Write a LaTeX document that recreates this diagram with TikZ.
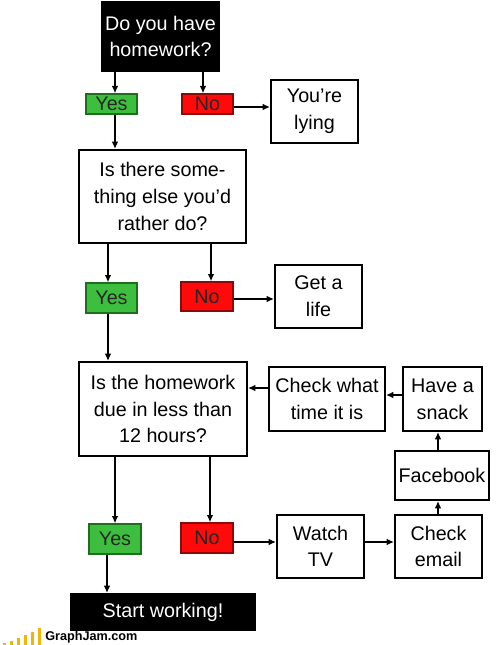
\documentclass[tikz,border=0pt]{standalone}
\usepackage{fontspec}
\setmainfont{Liberation Sans}
\usetikzlibrary{arrows.meta}
\definecolor{yesg}{HTML}{3EBE3E}
\definecolor{yesd}{HTML}{1E6E1E}
\definecolor{nor}{HTML}{FF0A0A}
\definecolor{nod}{HTML}{8A0A0A}
\definecolor{barc}{HTML}{F2B705}
\begin{document}
\begin{tikzpicture}[x=0.75pt,y=-0.75pt,
  box/.style={draw=black,line width=1.5pt,inner sep=0pt,align=center,font=\fontsize{14.8}{20}\selectfont},
  sz/.style 2 args={minimum width=#1*0.75pt,minimum height=#2*0.75pt},
  dark/.style={box,fill=black,text=white},
  yesb/.style={box,fill=yesg,draw=yesd,line width=1pt,text=black!85},
  nob/.style={box,fill=nor,draw=nod,line width=1pt,text=black!85},
  arr/.style={line width=1.5pt,-{Latex[length=5.5pt,width=5pt]}}]
\useasboundingbox (0,0) rectangle (497,645);
\fill[white] (0,0) rectangle (497,645);

% nodes
\node[dark,sz={117}{69}] (q1) at (160.5,36.5) {Do you have\\homework?};
\node[yesb,sz={51}{20}] (y1) at (111.5,104) {Yes};
\node[nob,sz={51}{20}] (n1) at (207.5,104) {No};
\node[box,sz={87}{63}] (lie) at (314.5,111.5) {You're\\lying};

\node[box,sz={167}{93}] (q2) at (162.5,196.5) {Is there some-\\thing else you'd\\rather do?};
\node[yesb,sz={51}{30}] (y2) at (111.5,298) {Yes};
\node[nob,sz={52}{29}] (n2) at (207,296.5) {No};
\node[box,sz={87}{63}] (life) at (318.5,296.5) {Get a\\life};

\node[box,sz={168}{94}] (q3) at (163,409) {Is the homework\\due in less than\\12 hours?};
\node[box,sz={116}{64}] (time) at (327,399) {Check what\\time it is};
\node[box,sz={79}{64}] (snack) at (442.5,399) {Have a\\snack};
\node[box,sz={94}{49}] (fb) at (442,475.5) {Facebook};

\node[yesb,sz={52}{30}] (y3) at (115,539) {Yes};
\node[nob,sz={52}{30}] (n3) at (207,538) {No};
\node[box,sz={87}{63}] (tv) at (320.5,546.5) {Watch\\TV};
\node[box,sz={87}{63}] (email) at (438.5,546.5) {Check\\email};

\node[dark,sz={184}{36}] (start) at (163,612) {Start working!};

% connectors
\draw[arr] (q1.south -| 115,0) -- (y1.north -| 115,0);
\draw[arr] (q1.south -| 203,0) -- (n1.north -| 203,0);
\draw[arr] (n1.east |- 0,107) -- (lie.west |- 0,107);
\draw[arr] (y1.south -| 115,0) -- (q2.north -| 115,0);

\draw[arr] (q2.south -| 108,0) -- (y2.north -| 108,0);
\draw[arr] (q2.south -| 211,0) -- (n2.north -| 211,0);
\draw[arr] (n2.east |- 0,299) -- (life.west |- 0,299);
\draw[arr] (y2.south -| 108,0) -- (q3.north -| 108,0);

\draw[arr] (q3.south -| 115,0) -- (y3.north -| 115,0);
\draw[arr] (q3.south -| 210,0) -- (n3.north -| 210,0);
\draw[arr] (n3.east |- 0,542) -- (tv.west |- 0,542);
\draw[arr] (tv.east |- 0,542) -- (email.west |- 0,542);
\draw[arr] (email.north -| 438,0) -- (fb.south -| 438,0);
\draw[arr] (fb.north -| 438,0) -- (snack.south -| 438,0);
\draw[arr] (snack.west |- 0,395) -- (time.east |- 0,395);
\draw[arr] (time.west |- 0,388) -- (q3.east |- 0,388);
\draw[arr] (y3.south -| 107,0) -- (start.north -| 107,0);

% logo
\foreach \bx/\bh in {3/2,10/4,17/7,24/10,31/13,38/17}
  \fill[barc] (\bx,645) rectangle (\bx+3,645-\bh);
\node[anchor=west,inner sep=0pt,font=\bfseries\fontsize{9.5}{10}\selectfont] (logo) at (45,637.5) {GraphJam.com};
\end{tikzpicture}
\end{document}
